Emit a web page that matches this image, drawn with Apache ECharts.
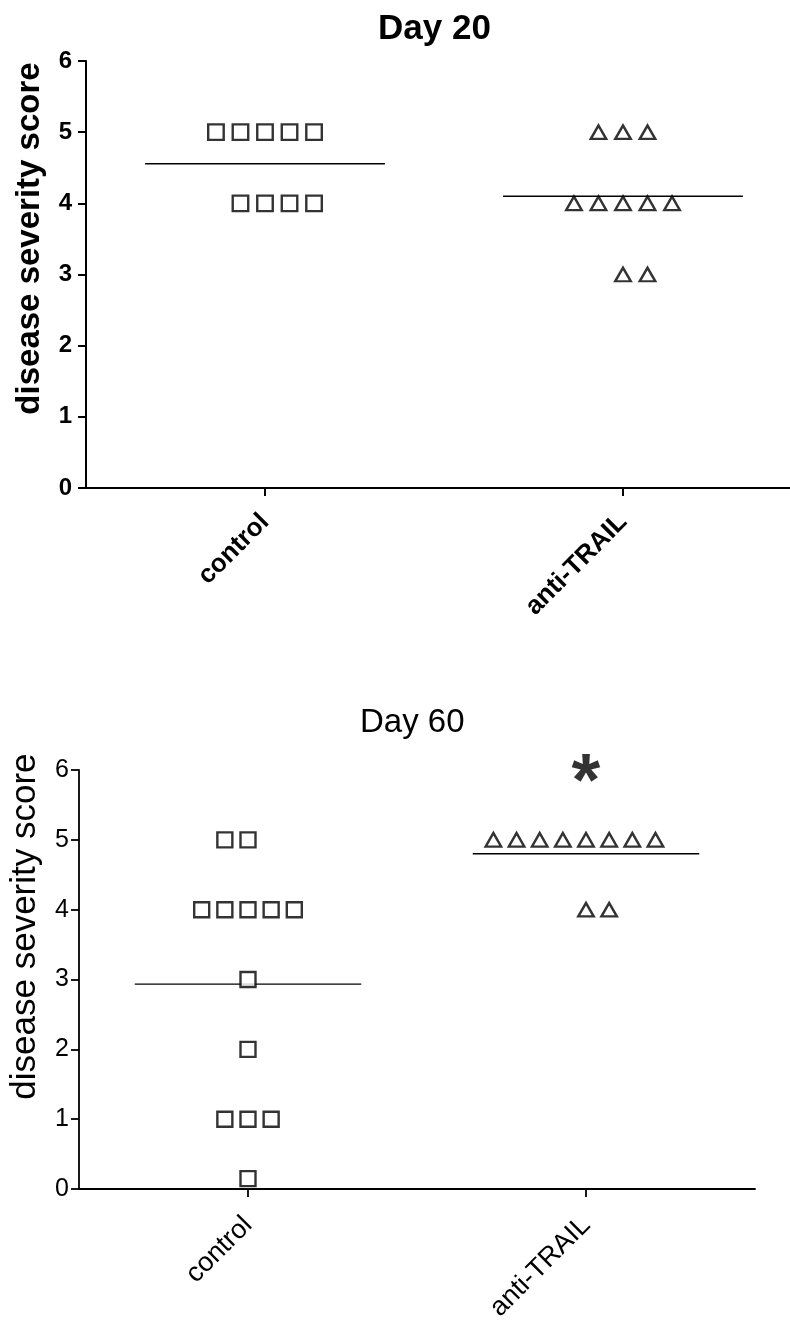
<!DOCTYPE html>
<html>
<head>
<meta charset="utf-8">
<script src="https://cdn.jsdelivr.net/npm/echarts@6/dist/echarts.min.js"></script>
<style>
  html, body { margin: 0; padding: 0; background: #fff; }
  #chart { width: 790px; height: 1324px; }
</style>
</head>
<body>
<div id="chart"></div>
<script>
// ---------------- DATA ----------------
const categories = ['control', 'anti-TRAIL'];
const titles = ['Day 20', 'Day 60'];
const yAxisName = 'disease severity score';
const yMin = 0, yMax = 6, yStep = 1;

// disease severity scores per animal
const day20Control = [5, 5, 5, 5, 5, 4, 4, 4, 4];
const day20AntiTrail = [5, 5, 5, 4, 4, 4, 4, 4, 3, 3];
const day60Control = [5, 5, 4, 4, 4, 4, 4, 3, 2, 1, 1, 1, 0.15];
const day60AntiTrail = [5, 5, 5, 5, 5, 5, 5, 5, 4, 4];

// significance mark (Day 60): [category, score level, symbol]
const day60Significance = ['anti-TRAIL', 6, '*'];

// ---------------- LAYOUT ----------------
const SLOT = 0.0685;      // horizontal spacing of stacked points (category units)
const MEAN_HALF = 0.335;  // half-width of mean line (category units)
// half-slot shift of even rows, as drawn by the original software
const rowBias = {
  d20c: { 4: 0.5 },
  d20a: { 3: 0.5 },
  d60c: { 5: -0.5 },
  d60a: { 5: -0.5, 4: 0.5 }
};
const catPos = categories.map((c, i) => i + 1);

function swarm(scores, catIdx, bias) {
  const rows = {};
  const order = [];
  scores.forEach(s => {
    if (!rows[s]) { rows[s] = []; order.push(s); }
    rows[s].push(s);
  });
  const pts = [];
  order.forEach(k => {
    const n = rows[k].length;
    const b = bias[k] || 0;
    rows[k].forEach((s, i) => {
      pts.push([catPos[catIdx] + (i - (n - 1) / 2 + b) * SLOT, s]);
    });
  });
  return pts;
}
function mean(a) { return a.reduce((p, c) => p + c, 0) / a.length; }
function meanLine(scores, catIdx) {
  const m = mean(scores);
  return [[catPos[catIdx] - MEAN_HALF, m], [catPos[catIdx] + MEAN_HALF, m]];
}

const FONT = 'Liberation Sans, Arial, sans-serif';

function panel(gi, bold, o) {
  const fw = bold ? 'bold' : 'normal';
  const lw = o.axisWidth;
  return {
    grid: { left: o.left, top: o.top, width: o.width, height: o.height, containLabel: false },
    x: {
      type: 'value', gridIndex: gi, min: 0.5, max: o.xMax,
      axisLine: { show: true, onZero: false, lineStyle: { color: '#000', width: lw } },
      axisTick: { show: true, customValues: catPos, length: 8, lineStyle: { color: '#000', width: lw } },
      axisLabel: { show: true, customValues: catPos, rotate: 45, margin: o.xLabelMargin,
        formatter: v => categories[Math.round(v) - 1] || '',
        color: '#000', fontSize: o.xLabelSize, fontWeight: fw, fontFamily: FONT },
      splitLine: { show: false }
    },
    y: {
      type: 'value', gridIndex: gi, min: yMin, max: yMax, interval: yStep,
      name: yAxisName, nameLocation: 'middle', nameRotate: 90, nameGap: o.nameGap,
      nameTextStyle: { color: '#000', fontSize: o.nameSize, fontWeight: fw, fontFamily: FONT,
        padding: [0, 0, 0, o.namePad] },
      axisLine: { show: true, lineStyle: { color: '#000', width: lw } },
      axisTick: { show: true, length: 8, lineStyle: { color: '#000', width: lw } },
      axisLabel: { margin: o.yLabelMargin, color: '#000', fontSize: o.yLabelSize, fontWeight: fw, fontFamily: FONT },
      splitLine: { show: false }
    }
  };
}

const p1 = panel(0, true, { left: 86, top: 61, width: 704, height: 427, xMax: 2.4665, axisWidth: 2,
  xLabelMargin: 30, xLabelSize: 26, nameGap: 40, nameSize: 33, namePad: 72, yLabelMargin: 14, yLabelSize: 24 });
const p2 = panel(1, false, { left: 77, top: 770, width: 678, height: 422, xMax: 2.5, axisWidth: 1.8,
  xLabelMargin: 32, xLabelSize: 27, nameGap: 36, nameSize: 35, namePad: 106, yLabelMargin: 10, yLabelSize: 25 });

const markerStyle = { color: '#fff', borderColor: '#000', borderWidth: 2.4 };
const lineStyle = { color: '#000', width: 1.4 };

function scatter(xi, yi, data, symbol, size) {
  return { type: 'scatter', xAxisIndex: xi, yAxisIndex: yi, data: data, symbol: symbol,
    symbolSize: size, itemStyle: markerStyle, z: 5, silent: true, clip: false };
}
function mline(xi, yi, data) {
  return { type: 'line', xAxisIndex: xi, yAxisIndex: yi, data: data, symbol: 'none',
    lineStyle: lineStyle, z: 3, silent: true };
}

const sigCat = categories.indexOf(day60Significance[0]);

const option = {
  animation: false,
  backgroundColor: '#fff',
  title: [
    { text: titles[0], left: 373, top: 7, textStyle: { color: '#000', fontSize: 35, fontWeight: 'bold', fontFamily: FONT } },
    { text: titles[1], left: 355, top: 701, textStyle: { color: '#000', fontSize: 33, fontWeight: 'normal', fontFamily: FONT } }
  ],
  grid: [p1.grid, p2.grid],
  xAxis: [p1.x, p2.x],
  yAxis: [p1.y, p2.y],
  series: [
    mline(0, 0, meanLine(day20Control, 0)),
    mline(0, 0, meanLine(day20AntiTrail, 1)),
    scatter(0, 0, swarm(day20Control, 0, rowBias.d20c), 'rect', 15.5),
    scatter(0, 0, swarm(day20AntiTrail, 1, rowBias.d20a), 'triangle', [15.5, 13.5]),
    mline(1, 1, meanLine(day60Control, 0)),
    mline(1, 1, meanLine(day60AntiTrail, 1)),
    scatter(1, 1, swarm(day60Control, 0, rowBias.d60c), 'rect', 15),
    scatter(1, 1, swarm(day60AntiTrail, 1, rowBias.d60a), 'triangle', [15.5, 13.5]),
    {
      type: 'scatter', xAxisIndex: 1, yAxisIndex: 1, symbolSize: 1, silent: true, clip: false,
      itemStyle: { color: 'rgba(0,0,0,0)' },
      data: [[catPos[sigCat], day60Significance[1]]],
      label: { show: true, position: 'inside', formatter: day60Significance[2], color: '#000',
        fontSize: 74, fontWeight: 'bold', fontFamily: FONT, offset: [0, 15] }
    }
  ]
};

const chart = echarts.init(document.getElementById('chart'), null, { renderer: 'canvas' });
chart.setOption(option);
</script>
</body>
</html>
